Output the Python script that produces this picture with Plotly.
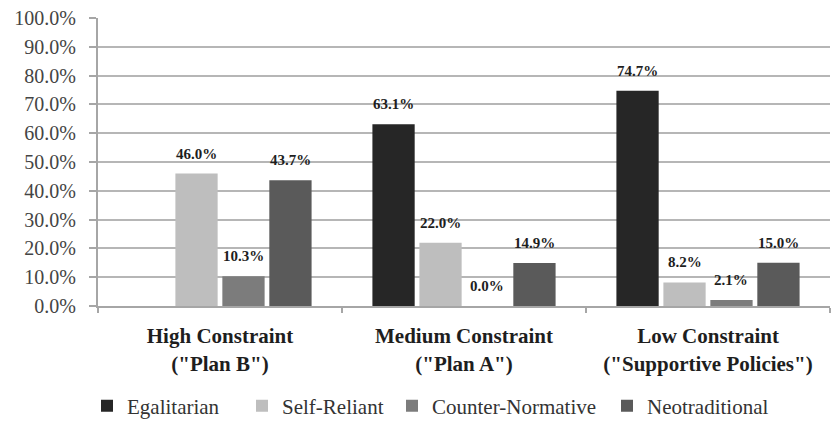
import plotly.graph_objects as go

categories = ["High Constraint<br>(\"Plan B\")", "Medium Constraint<br>(\"Plan A\")",
              "Low Constraint<br>(\"Supportive Policies\")"]
series_names = ["Egalitarian", "Self-Reliant", "Counter-Normative", "Neotraditional"]
egalitarian = [None, 63.1, 74.7]
self_reliant = [46.0, 22.0, 8.2]
counter_normative = [10.3, 0.0, 2.1]
neotraditional = [43.7, 14.9, 15.0]
colors = ["#262626", "#bebebe", "#7c7c7c", "#5a5a5a"]
y_ticks = [0, 10, 20, 30, 40, 50, 60, 70, 80, 90, 100]
y_tick_labels = ["0.0%", "10.0%", "20.0%", "30.0%", "40.0%", "50.0%",
                 "60.0%", "70.0%", "80.0%", "90.0%", "100.0%"]

all_series = [egalitarian, self_reliant, counter_normative, neotraditional]

# layout (pixels)
W, H = 834, 422
ML, MR, MT, MB = 98, 4, 18, 116
BARGAP = 0.23
FONT = "Liberation Serif"
legend_text_px = [128, 283, 433, 648]   # where each legend entry's text starts
LEGEND_TEXT_OFFSET = 41

plot_w = W - ML - MR
plot_h = H - MT - MB

fig = go.Figure()
legend_ids = ["legend", "legend2", "legend3", "legend4"]
for name, vals, col, lid in zip(series_names, all_series, colors, legend_ids):
    fig.add_trace(go.Bar(
        x=categories, y=vals, name=name, legend=lid,
        marker=dict(color=col, line=dict(width=0)),
        hoverinfo="skip",
    ))

cat_w = plot_w / len(categories)
slot = cat_w * (1 - BARGAP) / len(all_series)
for si, vals in enumerate(all_series):
    off = (si - (len(all_series) - 1) / 2) * slot
    for ci, v in enumerate(vals):
        if v is None:
            continue
        fig.add_annotation(
            x=categories[ci], y=v, xref="x", yref="y",
            text=f"<b>{v:.1f}%</b>", showarrow=False,
            xshift=off, yshift=20, yanchor="middle", xanchor="center",
            font=dict(family=FONT, size=15, color="#1e1e1e"),
        )

legend_y = -(406 - (H - MB)) / plot_h
legend_layouts = {}
for lid, tx in zip(legend_ids, legend_text_px):
    legend_layouts[lid] = dict(
        orientation="h", x=(tx - LEGEND_TEXT_OFFSET - ML) / plot_w, xanchor="left",
        y=legend_y, yanchor="middle", bgcolor="rgba(0,0,0,0)",
        font=dict(family=FONT, size=21, color="#333333"),
    )

fig.update_layout(
    width=W, height=H,
    margin=dict(l=ML, r=MR, t=MT, b=MB, pad=0, autoexpand=False),
    barmode="group", bargap=BARGAP, bargroupgap=0.1,
    paper_bgcolor="white", plot_bgcolor="white",
    font=dict(family=FONT, color="#333333"),
    showlegend=True,
    **legend_layouts,
)
fig.update_yaxes(
    range=[0, 100], tickvals=y_ticks, ticktext=y_tick_labels,
    showgrid=True, gridcolor="#b6b6b6", gridwidth=2,
    showline=True, linecolor="#a6a6a6", linewidth=2,
    ticks="outside", ticklen=7, tickcolor="#a6a6a6", tickwidth=2,
    ticklabelstandoff=9, automargin=False,
    tickfont=dict(family=FONT, size=20, color="#444444"),
    zeroline=False, fixedrange=True,
)
fig.update_xaxes(
    showline=True, linecolor="#a6a6a6", linewidth=2,
    ticks="outside", tickson="boundaries", ticklen=5, tickcolor="#a6a6a6", tickwidth=2,
    ticklabelstandoff=10, automargin=False,
    tickfont=dict(family=FONT, size=21, color="#1e1e1e"),
    showgrid=False, fixedrange=True,
)
fig.update_xaxes(ticktext=[f"<b>{c}</b>" for c in categories], tickvals=categories)

fig.write_html("out.html", config={"displayModeBar": False},
               post_script="document.body.style.margin='0';document.body.style.padding='0';")
